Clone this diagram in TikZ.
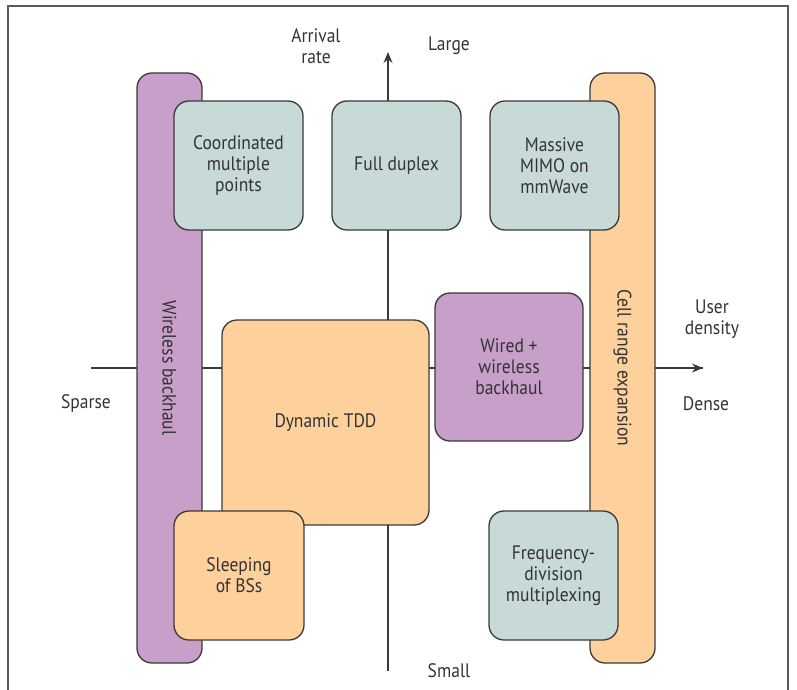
\documentclass[tikz,border=0pt]{standalone}
\usepackage{fontspec}
\setmainfont{PT Sans}[FakeStretch=0.9]
\usetikzlibrary{arrows.meta}
\definecolor{lilac}{HTML}{C79FC9}
\definecolor{peach}{HTML}{FDD09C}
\definecolor{sage}{HTML}{C8DAD7}
\definecolor{ink}{HTML}{333333}
\definecolor{edgegray}{HTML}{3A3A3A}
\definecolor{framegray}{HTML}{5A5A5A}
\begin{document}
\begin{tikzpicture}[x=1pt,y=-1pt,
  lbl/.style={font=\fontsize{19.5}{21}\selectfont, text=ink, align=center, inner sep=0pt},
  box/.style={lbl, draw=edgegray, line width=1.3pt, rounded corners=15pt},
  bar/.style={box, rotate=-90, minimum width=590pt, minimum height=65pt},
  axis/.style={draw=edgegray, line width=1.3pt},
  tip/.style={-{Stealth[length=11pt,width=9pt]}}
]
\useasboundingbox (0,0) rectangle (797,690);

% outer frame, open at the bottom
\draw[framegray, line width=1.2pt] (8,690) -- (8,6) -- (788,6) -- (788,690);

% axes
\coordinate (xl) at (91,368);
\coordinate (xr) at (703,368);
\coordinate (yb) at (388,671);
\coordinate (yt) at (388,52);
\draw[axis] (xl) -- (xr);
\draw[axis, tip] (yb) -- (yt);
\draw[axis, tip] (640,368) -- (xr);

% axis labels
\node[lbl] (arr) at (316,46) {Arrival\\rate};
\node[lbl] (large) at (449,46) {Large};
\node[lbl] (small) at (449,671) {Small};
\node[lbl] (sparse) at (86,404) {Sparse};
\node[lbl] (dense) at (706,404) {Dense};
\node[lbl] (user) at (712,319) {User\\density};

% vertical bars
\node[bar, fill=lilac] (wb) at (169.5,368) {Wireless backhaul};
\node[bar, fill=peach] (cre) at (622.5,368) {Cell range expansion};

% boxes
\node[box, fill=sage, minimum width=129pt, minimum height=129pt] (cmp) at (238.5,165.5) {Coordinated\\multiple\\points};
\node[box, fill=sage, minimum width=129pt, minimum height=129pt] (fd) at (396.5,165.5) {Full duplex};
\node[box, fill=sage, minimum width=129pt, minimum height=129pt] (mm) at (554.5,165.5) {Massive\\MIMO on\\mmWave};
\node[box, fill=peach, minimum width=207pt, minimum height=205pt] (tdd) at (325.5,422.5) {Dynamic TDD};
\node[box, fill=lilac, minimum width=148pt, minimum height=148pt] (wwb) at (509,367) {Wired +\\wireless\\backhaul};
\node[box, fill=peach, minimum width=130pt, minimum height=129pt] (sl) at (239,575.5) {Sleeping\\of BSs};
\node[box, fill=sage, minimum width=129pt, minimum height=129pt] (fdm) at (553.5,575.5) {Frequency-\\division\\multiplexing};
\end{tikzpicture}
\end{document}
